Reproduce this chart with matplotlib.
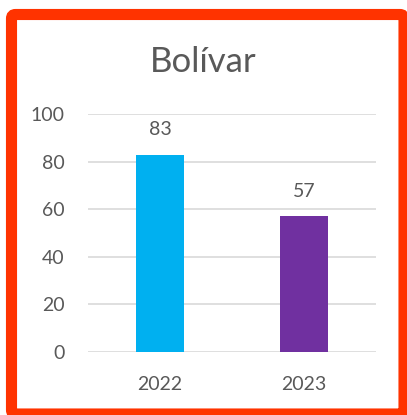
import matplotlib.pyplot as plt
from matplotlib.patches import FancyBboxPatch

plt.rcParams['font.family'] = ['Lato', 'DejaVu Sans']

TITLE = "Bolívar"
YEARS = ["2022", "2023"]
VALUES = [83, 57]
COLORS = ["#00B0F0", "#7030A0"]
Y_TICKS = [0, 20, 40, 60, 80, 100]

TEXT_COLOR = "#595959"

fig = plt.figure(figsize=(4.07, 4.15), dpi=100)
ax = fig.add_axes([0.216, 0.152, 0.708, 0.573])

x = range(len(YEARS))
bars = ax.bar(x, VALUES, width=0.33, color=COLORS, zorder=3)

ax.set_xlim(-0.5, len(YEARS) - 0.5)
ax.set_ylim(0, 100)
ax.set_yticks(Y_TICKS)
ax.set_xticks(list(x))
ax.set_xticklabels(YEARS)

# value labels above bars
for b, v in zip(bars, VALUES):
    ax.annotate(str(v), (b.get_x() + b.get_width() / 2, v),
                xytext=(0, 12), textcoords="offset points",
                ha="center", va="bottom", fontsize=14, color=TEXT_COLOR)

ax.yaxis.grid(True, color="#D9D9D9", linewidth=1.2, zorder=0)
for s in ax.spines.values():
    s.set_visible(False)
ax.tick_params(axis="both", length=0, labelsize=14, labelcolor=TEXT_COLOR)
ax.tick_params(axis="y", pad=17)
ax.tick_params(axis="x", pad=17)

fig.text(0.5, 0.85, TITLE, ha="center", va="center", fontsize=25, color=TEXT_COLOR)

# red frame around the chart
left, top, right, bottom = 11.5, 14.5, 404, 414
frame = FancyBboxPatch((left / 407, 1 - bottom / 415), (right - left) / 407, (bottom - top) / 415,
                       boxstyle="round,pad=0,rounding_size=0.01",
                       transform=fig.transFigure, fill=False,
                       edgecolor="#FF3300", linewidth=8)
fig.add_artist(frame)

fig.savefig("out.png", dpi=100)
